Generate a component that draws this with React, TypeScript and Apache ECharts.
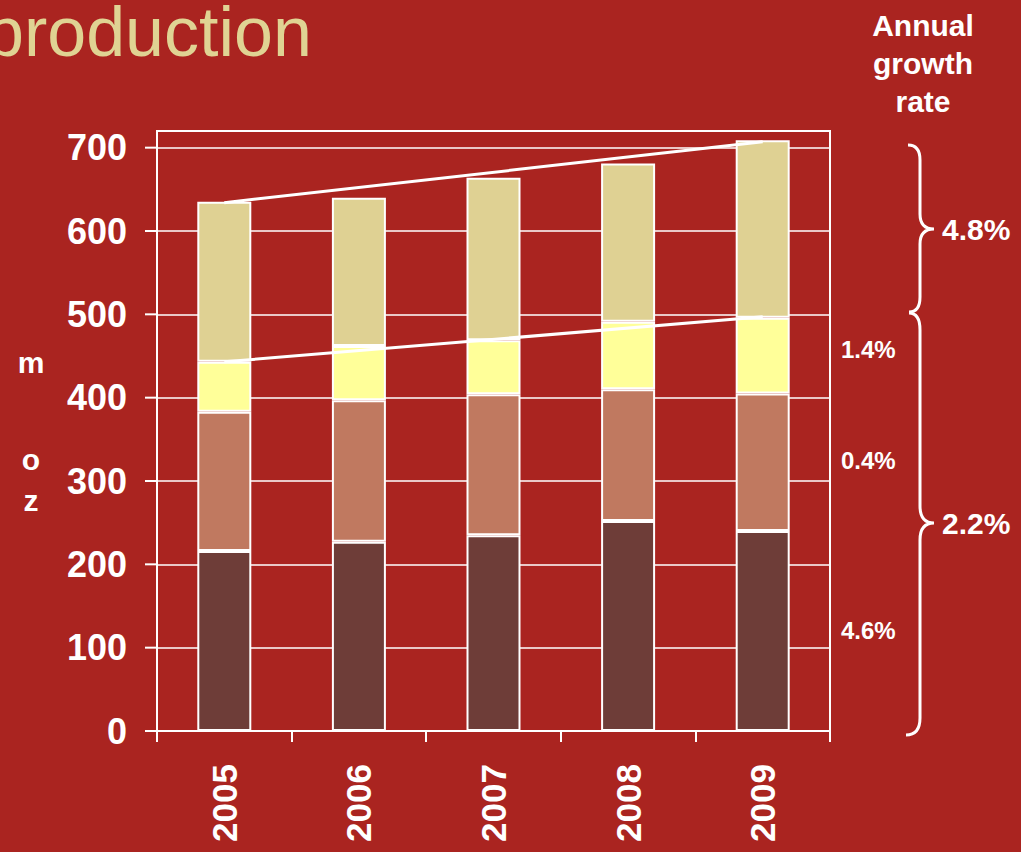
import React, { useEffect, useRef } from "react";
import * as echarts from "echarts";

const years = ["2005", "2006", "2007", "2008", "2009"];
const darkValues = [216, 227, 235, 252, 240];
const salmonValues = [167, 170, 169, 158, 165];
const yellowValues = [60, 65, 65, 81, 91];
const beigeValues = [192, 178, 195, 190, 213];
const upperTrend = [634, 707];
const lowerTrend = [443, 497];
const yTickValues = [0, 100, 200, 300, 400, 500, 600, 700];
const segmentRates = ["1.4%", "0.4%", "4.6%"];
const groupRates = ["4.8%", "2.2%"];
const titleText = "production";
const unitLetters = ["m", "o", "z"];

const BG = "#AA2420";
const FONT = "'Liberation Sans', Arial, sans-serif";
const GRID_LEFT = 157;

const braceTopPath =
  "M 908 145 Q 920 145 920 160 L 920 214 Q 920 229 934 229 Q 920 229 920 244 L 920 297 Q 920 312 909 312";
const braceBottomPath =
  "M 909 313 Q 920 313 920 330 L 920 506 Q 920 523 934 523 Q 920 523 920 540 L 920 718 Q 920 735 906 735";

let registered = false;
function registerShapes() {
  if (registered) return;
  echarts.graphic.registerShape("braceTop", echarts.graphic.extendPath(braceTopPath, {}));
  echarts.graphic.registerShape("braceBottom", echarts.graphic.extendPath(braceBottomPath, {}));
  registered = true;
}

export default function App() {
  const ref = useRef<HTMLDivElement>(null);
  useEffect(() => {
    if (!ref.current) return;
    registerShapes();
    const chart = echarts.init(ref.current, undefined, { renderer: "svg" });
    const barStyle = (color: string) => ({
      color,
      borderColor: "#ffffff",
      borderWidth: 2,
    });
    const braceStyle = { fill: "none", stroke: "#ffffff", lineWidth: 3 };
    const rateText = (text: string, x: number, y: number, size: number) => ({
      type: "text",
      x,
      y,
      style: {
        text,
        fill: "#ffffff",
        font: `bold ${size}px ${FONT}`,
        align: "left",
        verticalAlign: "middle",
      },
      z: 20,
    });
    const baseGraphics: any[] = [
      {
        type: "text",
        x: -15,
        y: 32,
        style: {
          text: titleText,
          fill: "#E0D393",
          font: `70px ${FONT}`,
          align: "left",
          verticalAlign: "middle",
        },
      },
      {
        type: "text",
        x: 923,
        y: 63,
        style: {
          text: "Annual\ngrowth\nrate",
          fill: "#ffffff",
          font: `bold 30px ${FONT}`,
          align: "center",
          verticalAlign: "middle",
          lineHeight: 38,
        },
      },
      ...unitLetters.map((ch, i) => ({
        type: "text",
        x: 31,
        y: [362, 459, 500][i],
        style: {
          text: ch,
          fill: "#ffffff",
          font: `bold 30px ${FONT}`,
          align: "center",
          verticalAlign: "middle",
        },
      })),
      rateText(segmentRates[0], 841, 349, 24),
      rateText(segmentRates[1], 841, 460, 24),
      rateText(segmentRates[2], 841, 630, 24),
      rateText(groupRates[0], 942, 229, 30),
      rateText(groupRates[1], 942, 523, 30),
      { type: "braceTop", x: 0, y: 0, style: braceStyle, z: 20 },
      { type: "braceBottom", x: 0, y: 0, style: braceStyle, z: 20 },
    ];
    chart.setOption({
      animation: false,
      backgroundColor: BG,
      grid: {
        left: GRID_LEFT,
        right: 191,
        top: 131,
        bottom: 121,
        show: true,
        borderColor: "#ffffff",
        borderWidth: 2,
        backgroundColor: "transparent",
      },
      xAxis: {
        type: "category",
        data: years,
        boundaryGap: true,
        axisLine: { lineStyle: { color: "#ffffff", width: 2 } },
        axisTick: { show: true, length: 11, inside: false, lineStyle: { color: "#ffffff", width: 2 } },
        axisLabel: {
          rotate: 90,
          color: "#ffffff",
          fontWeight: "bold",
          fontSize: 35,
          fontFamily: FONT,
          margin: 33,
        },
        splitLine: { show: false },
      },
      yAxis: {
        type: "value",
        min: 0,
        max: 720,
        interval: 100,
        axisLine: { show: true, lineStyle: { color: "#ffffff", width: 2 } },
        axisTick: { show: false },
        axisLabel: {
          color: "#ffffff",
          fontWeight: "bold",
          fontSize: 36,
          fontFamily: FONT,
          margin: 30,
          customValues: yTickValues,
        },
        splitLine: { show: true, lineStyle: { color: "#ffffff", width: 1.5 } },
      },
      series: [
        { type: "bar", stack: "p", data: darkValues, barWidth: 54, itemStyle: barStyle("#6E3D38") },
        { type: "bar", stack: "p", data: salmonValues, barWidth: 54, itemStyle: barStyle("#C07960") },
        { type: "bar", stack: "p", data: yellowValues, barWidth: 54, itemStyle: barStyle("#FFFF99") },
        { type: "bar", stack: "p", data: beigeValues, barWidth: 54, itemStyle: barStyle("#DFD193") },
        {
          type: "line",
          data: [
            [0, upperTrend[0]],
            [4, upperTrend[1]],
          ],
          symbol: "none",
          lineStyle: { color: "#ffffff", width: 3 },
          z: 10,
        },
        {
          type: "line",
          data: [
            [0, lowerTrend[0]],
            [4, lowerTrend[1]],
          ],
          symbol: "none",
          lineStyle: { color: "#ffffff", width: 3 },
          z: 10,
        },
      ],
    });
    const tickLines = yTickValues.map((v) => {
      const py = chart.convertToPixel({ yAxisIndex: 0 }, v) as number;
      return {
        type: "line",
        shape: { x1: GRID_LEFT - 12, y1: py, x2: GRID_LEFT, y2: py },
        style: { stroke: "#ffffff", lineWidth: 2 },
        z: 5,
      };
    });
    chart.setOption({ graphic: [...baseGraphics, ...tickLines] });
    return () => chart.dispose();
  }, []);
  return (
    <div
      ref={ref}
      style={{ position: "absolute", left: 0, top: 0, width: 1021, height: 852 }}
    />
  );
}
